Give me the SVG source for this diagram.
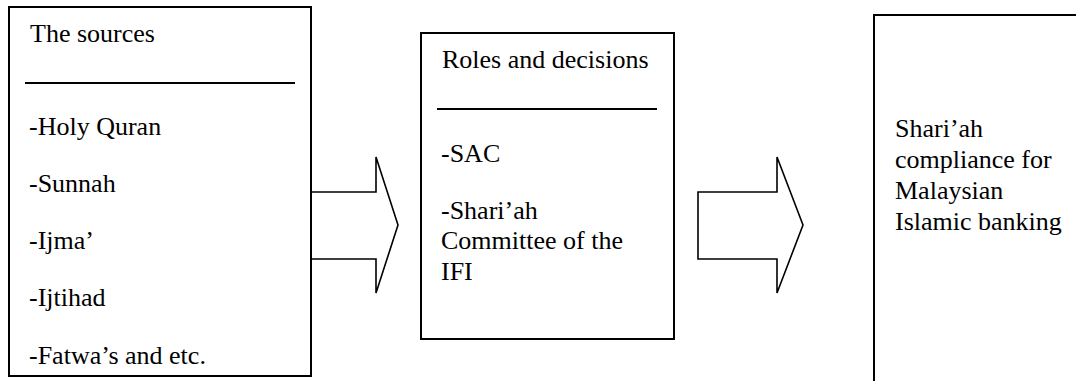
<svg xmlns="http://www.w3.org/2000/svg" width="1076" height="381" viewBox="0 0 1076 381">
  <style>
    .box { fill: #ffffff; stroke: #000000; stroke-width: 2; }
    .rule { stroke: #000000; stroke-width: 2; }
    .arrow { fill: #ffffff; stroke: #000000; stroke-width: 1.6; stroke-linejoin: miter; }
    .label { font-family: "Liberation Serif", "Times New Roman", serif; font-size: 26px; fill: #000000; }
  </style>
  <rect x="0" y="0" width="1076" height="381" fill="#ffffff"/>

  <!-- block arrows between the boxes -->
  <g id="connectors">
    <path class="arrow" d="M311,192 H376 V157 L398,225 L376,293 V259 H311"/>
    <path class="arrow" d="M698,192 H777 V157 L803,225 L777,293 V259 H698 Z"/>
  </g>

  <g id="sources">
    <rect class="box" x="9" y="7" width="302" height="369"/>
    <text class="label" x="30" y="42">The sources</text>
    <line class="rule" x1="25" y1="83" x2="295" y2="83"/>
    <text class="label" x="29" y="135">-Holy Quran</text>
    <text class="label" x="29" y="192">-Sunnah</text>
    <text class="label" x="29" y="249">-Ijma’</text>
    <text class="label" x="29" y="306">-Ijtihad</text>
    <text class="label" x="29" y="364">-Fatwa’s and etc.</text>
  </g>

  <g id="roles">
    <rect class="box" x="421" y="33" width="253" height="306"/>
    <text class="label" x="442" y="68">Roles and decisions</text>
    <line class="rule" x1="437" y1="109" x2="657" y2="109"/>
    <text class="label" x="441" y="162">-SAC</text>
    <text class="label" x="441" y="219">-Shari’ah</text>
    <text class="label" x="441" y="249">Committee of the</text>
    <text class="label" x="441" y="280">IFI</text>
  </g>

  <g id="compliance">
    <rect class="box" x="874" y="15" width="240" height="400"/>
    <text class="label" x="895" y="137">Shari’ah</text>
    <text class="label" x="895" y="168">compliance for</text>
    <text class="label" x="895" y="199">Malaysian</text>
    <text class="label" x="895" y="230">Islamic banking</text>
  </g>
</svg>
